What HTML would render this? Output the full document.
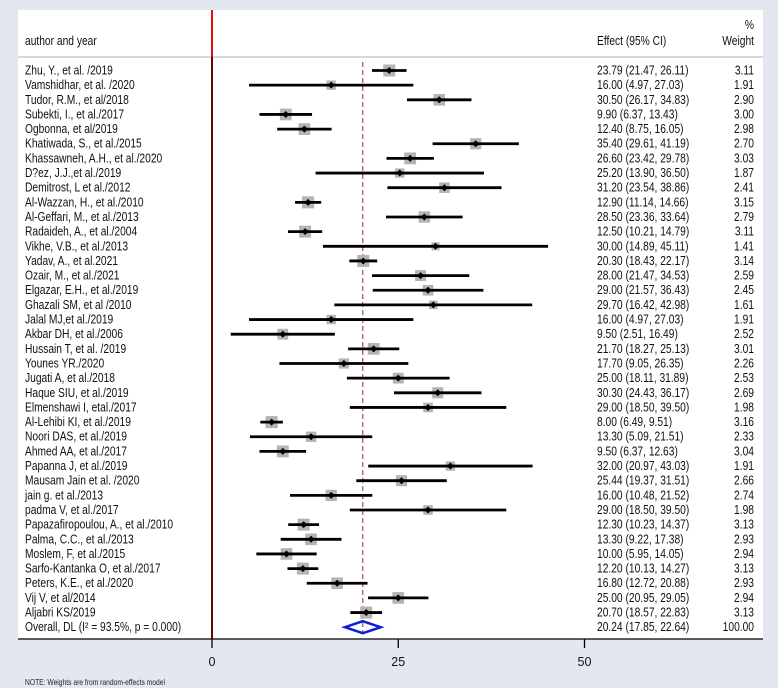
<!DOCTYPE html>
<html><head><meta charset="utf-8"><style>
body{margin:0;background:#e3e8f0;}
svg{display:block;font-family:"Liberation Sans",sans-serif;}
</style></head><body>
<svg id="chart" width="778" height="688" viewBox="0 0 778 688" xmlns="http://www.w3.org/2000/svg">
<rect x="18" y="10" width="745" height="629" fill="#ffffff"/>
<g id="hdr" font-size="12.5" fill="#111">
<g transform="translate(25,0) scale(0.82,1)"><text x="0" y="45">author and year</text></g>
<g transform="translate(597,0) scale(0.82,1)"><text x="0" y="45">Effect (95% CI)</text></g>
<g transform="translate(754,0) scale(0.82,1)"><text x="0" y="29" text-anchor="end">%</text><text x="0" y="45" text-anchor="end">Weight</text></g>
</g>
<line x1="18" y1="57" x2="763" y2="57" stroke="#cccccc" stroke-width="1.5"/>
<g id="plot"></g>
<line x1="18" y1="639" x2="763" y2="639" stroke="#000" stroke-width="1.3"/>
<g transform="translate(25,0) scale(0.84,1)"><text x="0" y="685" font-size="8" fill="#222">NOTE: Weights are from random-effects model</text></g>
</svg>
<script>
const labels=["Zhu, Y., et al. /2019","Vamshidhar, et al. /2020","Tudor, R.M., et al/2018","Subekti, I., et al./2017","Ogbonna, et al/2019","Khatiwada, S., et al./2015","Khassawneh, A.H., et al./2020","D?ez, J.J.,et al./2019","Demitrost, L et al./2012","Al-Wazzan, H., et al./2010","Al-Geffari, M., et al./2013","Radaideh, A., et al./2004","Vikhe, V.B., et al./2013","Yadav, A., et al.2021","Ozair, M., et al./2021","Elgazar, E.H., et al./2019","Ghazali SM, et al /2010","Jalal MJ,et al./2019","Akbar DH, et al./2006","Hussain T, et al. /2019","Younes YR./2020","Jugati A, et al./2018","Haque SIU, et al./2019","Elmenshawi I, etal./2017","Al-Lehibi KI, et al./2019","Noori DAS, et al./2019","Ahmed AA, et al./2017","Papanna J, et al./2019","Mausam Jain et al. /2020","jain g. et al./2013","padma V, et al./2017","Papazafiropoulou, A., et al./2010","Palma, C.C., et al./2013","Moslem, F, et al./2015","Sarfo-Kantanka O, et al./2017","Peters, K.E., et al./2020","Vij V, et al/2014","Aljabri KS/2019"];
const est=[23.79,16.00,30.50,9.90,12.40,35.40,26.60,25.20,31.20,12.90,28.50,12.50,30.00,20.30,28.00,29.00,29.70,16.00,9.50,21.70,17.70,25.00,30.30,29.00,8.00,13.30,9.50,32.00,25.44,16.00,29.00,12.30,13.30,10.00,12.20,16.80,25.00,20.70];
const lo=[21.47,4.97,26.17,6.37,8.75,29.61,23.42,13.90,23.54,11.14,23.36,10.21,14.89,18.43,21.47,21.57,16.42,4.97,2.51,18.27,9.05,18.11,24.43,18.50,6.49,5.09,6.37,20.97,19.37,10.48,18.50,10.23,9.22,5.95,10.13,12.72,20.95,18.57];
const hi=[26.11,27.03,34.83,13.43,16.05,41.19,29.78,36.50,38.86,14.66,33.64,14.79,45.11,22.17,34.53,36.43,42.98,27.03,16.49,25.13,26.35,31.89,36.17,39.50,9.51,21.51,12.63,43.03,31.51,21.52,39.50,14.37,17.38,14.05,14.27,20.88,29.05,22.83];
const weights=[3.11,1.91,2.90,3.00,2.98,2.70,3.03,1.87,2.41,3.15,2.79,3.11,1.41,3.14,2.59,2.45,1.61,1.91,2.52,3.01,2.26,2.53,2.69,1.98,3.16,2.33,3.04,1.91,2.66,2.74,1.98,3.13,2.93,2.94,3.13,2.93,2.94,3.13];
const overall=[20.24,17.85,22.64];
const overallWeight="100.00";
const overallLabel="Overall, DL (I\u00B2 = 93.5%, p = 0.000)";
const ticks=[0,25,50];

const NS="http://www.w3.org/2000/svg";
const g=document.getElementById('plot');
const X0=212,PX=7.45;
function xs(v){return X0+v*PX;}
function ys(i){return 70.5+i*14.65;}
function mk(t,a,p){const e=document.createElementNS(NS,t);for(const k in a)e.setAttribute(k,a[k]);(p||g).appendChild(e);return e;}
function f(v){return v.toFixed(2);}
function txt(x,y,s,anchor,name){
  const gg=mk('g',{transform:`translate(${x},0) scale(0.82,1)`});
  const t=mk('text',{x:0,y:y,'font-size':12.5,fill:'#111','text-anchor':anchor||'start'},gg);
  
  
  t.textContent=s;return t;
}
let l=mk('line',{x1:X0,y1:10,x2:X0,y2:57,stroke:'#e01010','stroke-width':2});


l=mk('line',{x1:X0,y1:57,x2:X0,y2:639,stroke:'#5a0c0c','stroke-width':2});


l=mk('line',{x1:xs(overall[0]),y1:62,x2:xs(overall[0]),y2:634,stroke:'#8b2e2e','stroke-width':1,'stroke-dasharray':'5,3'});



for(let i=0;i<labels.length;i++){
  const y=ys(i);
  txt(25,y+4,labels[i],'start','study-label');
  txt(597,y+4,`${f(est[i])} (${f(lo[i])}, ${f(hi[i])})`,'start','effect-ci-text');
  txt(754,y+4,f(weights[i]),'end','weight-text');
  const s=6.8*Math.sqrt(weights[i]);
  const r=mk('rect',{x:xs(est[i])-s/2,y:y-s/2,width:s,height:s,fill:'#b4b4b4'});
  
  
  const c=mk('line',{x1:xs(lo[i]),y1:y,x2:xs(hi[i]),y2:y,stroke:'#000','stroke-width':2.8});
  
  
  const cx=xs(est[i]);
  const d=mk('polygon',{points:`${cx-3.5},${y} ${cx},${y-3.5} ${cx+3.5},${y} ${cx},${y+3.5}`,fill:'#000'});
  
  
}
const oy=ys(labels.length);
txt(25,oy+4,overallLabel,'start','overall-label');
txt(597,oy+4,`${f(overall[0])} (${f(overall[1])}, ${f(overall[2])})`,'start','overall-effect-text');
txt(754,oy+4,overallWeight,'end','overall-weight-text');
const dm=mk('polygon',{points:`${xs(overall[1])},${oy} ${xs(overall[0])},${oy-6} ${xs(overall[2])},${oy} ${xs(overall[0])},${oy+6}`,fill:'none',stroke:'#0a1fd6','stroke-width':2.5});



for(const t of ticks){
  const tl=mk('line',{x1:xs(t),y1:639,x2:xs(t),y2:648,stroke:'#000','stroke-width':1.3});
  
  
  const tt=mk('text',{x:xs(t),y:666,'font-size':12.5,fill:'#111','text-anchor':'middle'});
  
  
  tt.textContent=t;
}
</script>
</body></html>
